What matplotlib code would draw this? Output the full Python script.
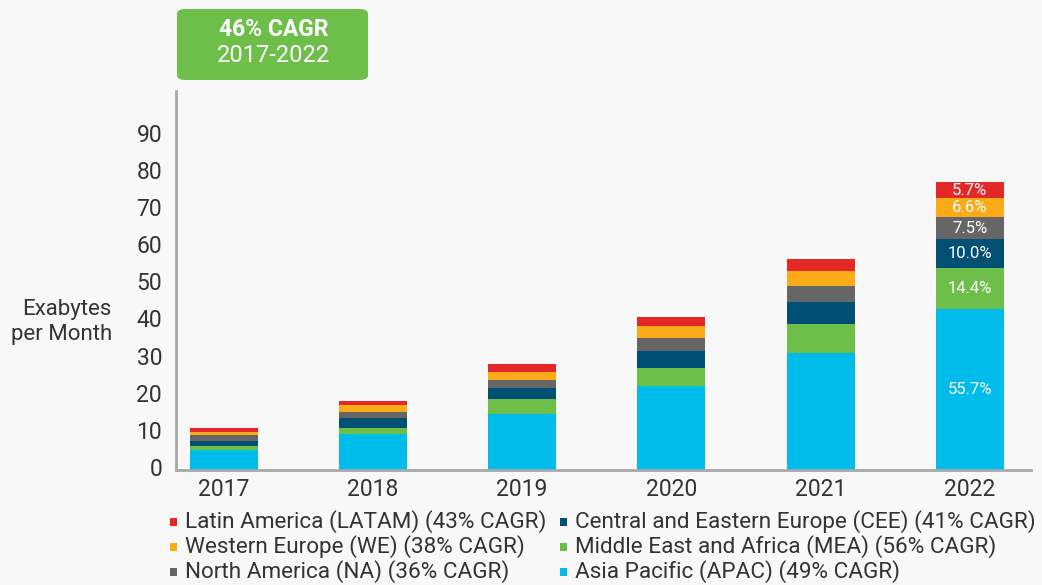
import matplotlib
matplotlib.use("Agg")
import matplotlib.pyplot as plt
from matplotlib.patches import FancyBboxPatch, Rectangle
import matplotlib.transforms as mtransforms

years = ["2017", "2018", "2019", "2020", "2021", "2022"]
apac = [5.3, 9.8, 15.2, 22.6, 31.5, 43.2]
mea = [1.1, 1.6, 3.8, 4.9, 7.9, 11.2]
cee = [1.4, 2.7, 3.0, 4.6, 5.7, 7.8]
na = [1.6, 1.4, 2.2, 3.3, 4.3, 5.8]
we = [0.8, 1.9, 2.2, 3.3, 4.1, 5.1]
latam = [1.1, 1.1, 2.2, 2.4, 3.3, 4.4]
share_2022 = ["55.7%", "14.4%", "10.0%", "7.5%", "6.6%", "5.7%"]
yticks = [0, 10, 20, 30, 40, 50, 60, 70, 80, 90]

series = [
    ("Asia Pacific (APAC) (49% CAGR)", apac, "#00BCEB"),
    ("Middle East and Africa (MEA) (56% CAGR)", mea, "#6EBE4A"),
    ("Central and Eastern Europe (CEE) (41% CAGR)", cee, "#005073"),
    ("North America (NA) (36% CAGR)", na, "#666666"),
    ("Western Europe (WE) (38% CAGR)", we, "#FBAB18"),
    ("Latin America (LATAM) (43% CAGR)", latam, "#E42828"),
]

plt.rcParams['font.family'] = ['Roboto', 'DejaVu Sans']
bg = "#F8F8F8"
txt = "#333333"
fig = plt.figure(figsize=(10.42, 5.85), dpi=100, facecolor=bg)
ax = fig.add_axes([176/1042, 115/585, 855/1042, 379/585], facecolor=bg)

x = list(range(len(years)))
bottom = [0.0] * len(years)
for i, (name, vals, col) in enumerate(series):
    ax.bar(x, vals, bottom=bottom, width=0.456, color=col, linewidth=0)
    last = len(years) - 1
    ax.text(x[last], bottom[last] + vals[last] / 2, share_2022[i], ha="center",
            va="center", color="white", fontsize=12)
    bottom = [b + v for b, v in zip(bottom, vals)]

ax.set_xlim(-0.32, 5.41)
ax.set_ylim(0, 102)
ax.set_xticks(x)
ax.set_xticklabels(years, fontsize=16.5, color=txt)
ax.set_yticks(yticks)
ax.set_yticklabels([str(t) for t in yticks], fontsize=16.5, color=txt)
ax.tick_params(length=0)
ax.tick_params(axis="y", pad=10)
ax.tick_params(axis="x", pad=6)
offset = mtransforms.ScaledTranslation(0, 3/100, fig.dpi_scale_trans)
for lab in ax.get_yticklabels():
    lab.set_transform(lab.get_transform() + offset)
for s in ["top", "right"]:
    ax.spines[s].set_visible(False)
for s in ["left", "bottom"]:
    ax.spines[s].set_color("#A8A8A8")
    ax.spines[s].set_linewidth(2)

fig.text(112/1042, 1 - 322/585, "Exabytes\nper Month", ha="right", va="center",
         fontsize=16, color=txt, linespacing=1.25)

# CAGR box
box = FancyBboxPatch((177/1042, 1 - 80/585), 191/1042, 71/585,
                     boxstyle="round,pad=0,rounding_size=0.008",
                     transform=fig.transFigure, facecolor="#6EBE4A", edgecolor="none")
fig.patches.append(box)
fig.text(274/1042, 1 - 30/585, "46% CAGR", ha="center", va="center", color="white",
         fontsize=16.5, fontweight="bold")
fig.text(273/1042, 1 - 55/585, "2017-2022", ha="center", va="center", color="white",
         fontsize=17)

# Legend (manual, row-major order)
order = [5, 2, 4, 1, 3, 0]
colx = [173, 563]
rowy = [522, 547, 572]
for k, idx in enumerate(order):
    name, vals, col = series[idx]
    r, c = k // 2, k % 2
    fx = colx[c] / 1042
    fy = 1 - rowy[r] / 585
    fig.patches.append(Rectangle((fx - 3/1042, fy - 4/585), 7/1042, 8/585,
                                 transform=fig.transFigure, facecolor=col, edgecolor="none"))
    fig.text(fx + 12/1042, fy, name, ha="left", va="center", fontsize=16.2, color=txt)

fig.savefig("out.png", dpi=100, facecolor=bg)
